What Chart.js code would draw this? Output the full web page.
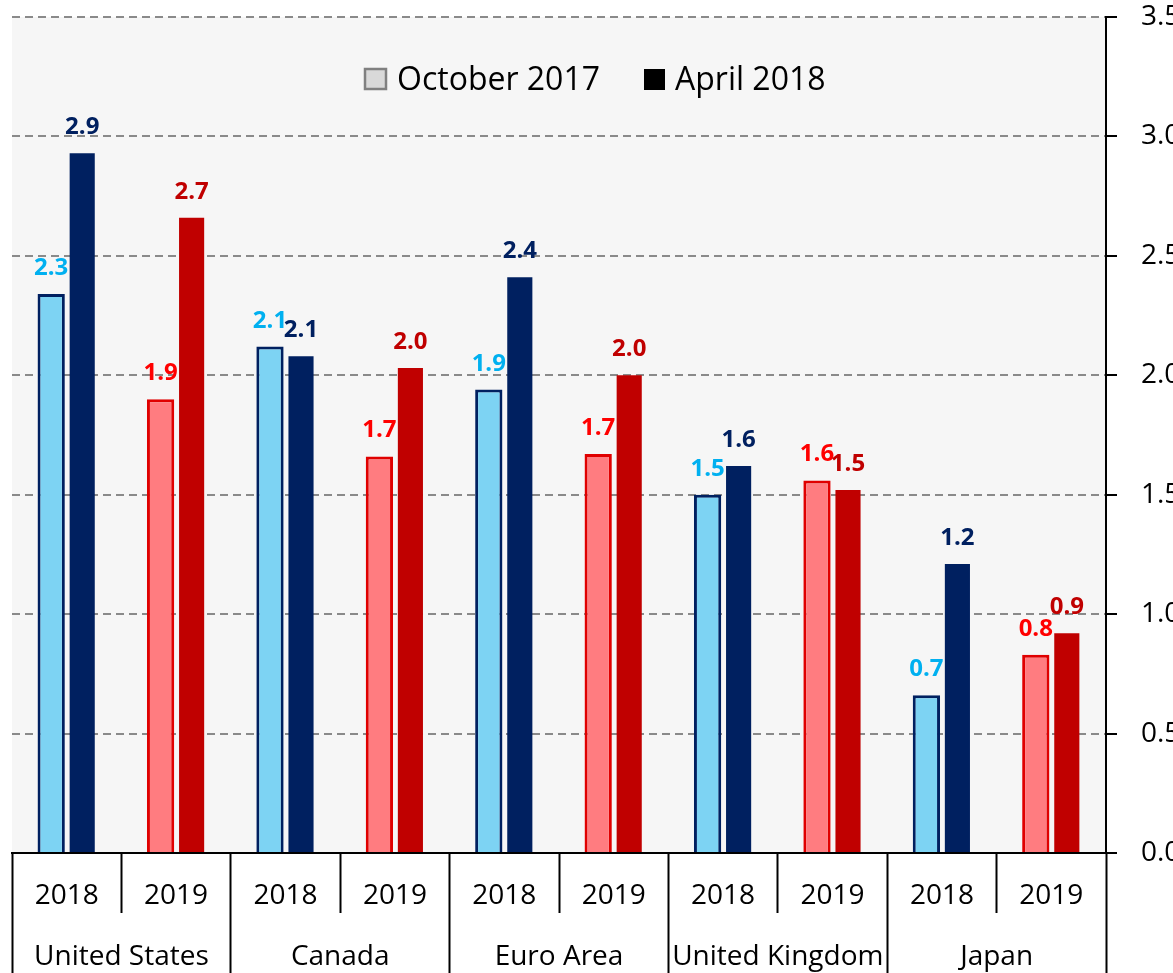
<!DOCTYPE html>
<html>
<head>
<meta charset="utf-8">
<script src="https://cdn.jsdelivr.net/npm/chart.js@4.4.1/dist/chart.umd.min.js"></script>
<style>
  html, body { margin: 0; padding: 0; background: #ffffff; overflow: hidden; }
  #wrap { position: absolute; left: 0; top: 0; width: 1180px; height: 973px; }
</style>
</head>
<body>
<div id="wrap"><canvas id="c"></canvas></div>
<script>
// ---- data ----
const years = ['2018', '2019', '2018', '2019', '2018', '2019', '2018', '2019', '2018', '2019'];
const countries = ['United States', 'Canada', 'Euro Area', 'United Kingdom', 'Japan'];
const seriesNames = ['October 2017', 'April 2018'];
const october2017 = [2.34, 1.90, 2.12, 1.66, 1.94, 1.67, 1.50, 1.56, 0.66, 0.83];
const april2018 = [2.93, 2.66, 2.08, 2.03, 2.41, 2.00, 1.62, 1.52, 1.21, 0.92];
const yTicks = [0, 0.5, 1.0, 1.5, 2.0, 2.5, 3.0, 3.5];

// ---- styles ----
const FONT = "'Open Sans', 'DejaVu Sans', sans-serif";
const octFill = years.map(y => y === '2018' ? '#7dd3f3' : '#ff7c80');
const octBorder = years.map(y => y === '2018' ? '#002060' : '#e00000');
const aprFill = years.map(y => y === '2018' ? '#002060' : '#c00000');
const octLabelColor = years.map(y => y === '2018' ? '#00b0f0' : '#ff0000');
const aprLabelColor = years.map(y => y === '2018' ? '#002060' : '#c00000');
const labelColors = [octLabelColor, aprLabelColor];

const plotBg = {
  id: 'plotBg',
  beforeDraw(chart) {
    const { ctx, chartArea: a } = chart;
    ctx.save();
    ctx.fillStyle = '#f6f6f6';
    ctx.fillRect(a.left, a.top, a.right - a.left, a.bottom - a.top);
    ctx.restore();
  }
};

const valueLabels = {
  id: 'valueLabels',
  afterDatasetsDraw(chart) {
    const ctx = chart.ctx;
    ctx.save();
    ctx.font = "bold 24px " + FONT;
    ctx.textAlign = 'center';
    ctx.textBaseline = 'alphabetic';
    chart.data.datasets.forEach((ds, di) => {
      const meta = chart.getDatasetMeta(di);
      meta.data.forEach((el, i) => {
        ctx.fillStyle = labelColors[di][i];
        ctx.fillText(ds.data[i].toFixed(1), el.x, el.y - 19);
      });
    });
    ctx.restore();
  }
};

const insideLegend = {
  id: 'insideLegend',
  afterDraw(chart) {
    const ctx = chart.ctx;
    const a = chart.chartArea;
    const base = a.top + 73;
    ctx.save();
    ctx.font = "32px " + FONT;
    ctx.textBaseline = 'alphabetic';
    ctx.textAlign = 'left';
    ctx.fillStyle = '#d9d9d9';
    ctx.strokeStyle = '#808080';
    ctx.lineWidth = 2.5;
    ctx.fillRect(365, base - 21, 21, 20);
    ctx.strokeRect(365, base - 21, 21, 20);
    ctx.fillStyle = '#000000';
    ctx.fillText(seriesNames[0], 397, base);
    ctx.fillRect(644, base - 21, 21, 21);
    ctx.fillText(seriesNames[1], 675, base);
    ctx.restore();
  }
};

new Chart(document.getElementById('c'), {
  type: 'bar',
  data: {
    labels: years,
    datasets: [
      {
        label: seriesNames[0],
        data: october2017,
        backgroundColor: octFill,
        borderColor: octBorder,
        borderWidth: 3,
        borderSkipped: 'start',
        barPercentage: 0.88
      },
      {
        label: seriesNames[1],
        data: april2018,
        backgroundColor: aprFill,
        borderWidth: 0,
        barPercentage: 0.81
      }
    ]
  },
  options: {
    responsive: true,
    maintainAspectRatio: false,
    animation: false,
    categoryPercentage: 0.567,
    layout: { padding: { left: 12, top: 17, right: 0, bottom: 0 } },
    plugins: {
      legend: { display: false },
      tooltip: { enabled: false }
    },
    scales: {
      x: {
        type: 'category',
        position: 'bottom',
        weight: 0,
        offset: true,
        grid: {
          offset: true,
          drawOnChartArea: false,
          drawTicks: true,
          tickLength: 60,
          tickColor: '#000000',
          tickWidth: 2
        },
        border: { display: true, color: '#000000', width: 2 },
        ticks: {
          color: '#000000',
          font: { family: FONT, size: 28 },
          padding: -34,
          maxRotation: 0,
          autoSkip: false
        },
        afterFit(scale) { scale.height = 60; }
      },
      x2: {
        type: 'category',
        labels: countries,
        position: 'bottom',
        weight: 1,
        offset: true,
        grid: {
          offset: true,
          drawOnChartArea: false,
          drawTicks: true,
          tickLength: 60,
          tickColor: '#000000',
          tickWidth: 2
        },
        border: { display: false },
        ticks: {
          color: '#000000',
          font: { family: FONT, size: 28 },
          padding: -33,
          maxRotation: 0,
          autoSkip: false
        },
        afterFit(scale) { scale.height = 60; }
      },
      y: {
        position: 'right',
        min: 0,
        max: 3.5,
        afterBuildTicks(scale) { scale.ticks = yTicks.map(v => ({ value: v })); },
        grid: {
          color: '#8a8a8a',
          lineWidth: 2,
          drawTicks: true,
          tickLength: 11,
          tickColor: '#000000',
          tickWidth: 2,
          tickBorderDash: []
        },
        border: { display: true, color: '#000000', width: 2, dash: [8, 5] },
        ticks: {
          color: '#000000',
          font: { family: FONT, size: 28 },
          padding: 24,
          callback: v => Number(v).toFixed(1)
        },
        afterFit(scale) {
          scale.width = 74;
          scale.paddingTop = 0;
          scale.paddingBottom = 0;
        }
      }
    }
  },
  plugins: [plotBg, valueLabels, insideLegend]
});
</script>
</body>
</html>
